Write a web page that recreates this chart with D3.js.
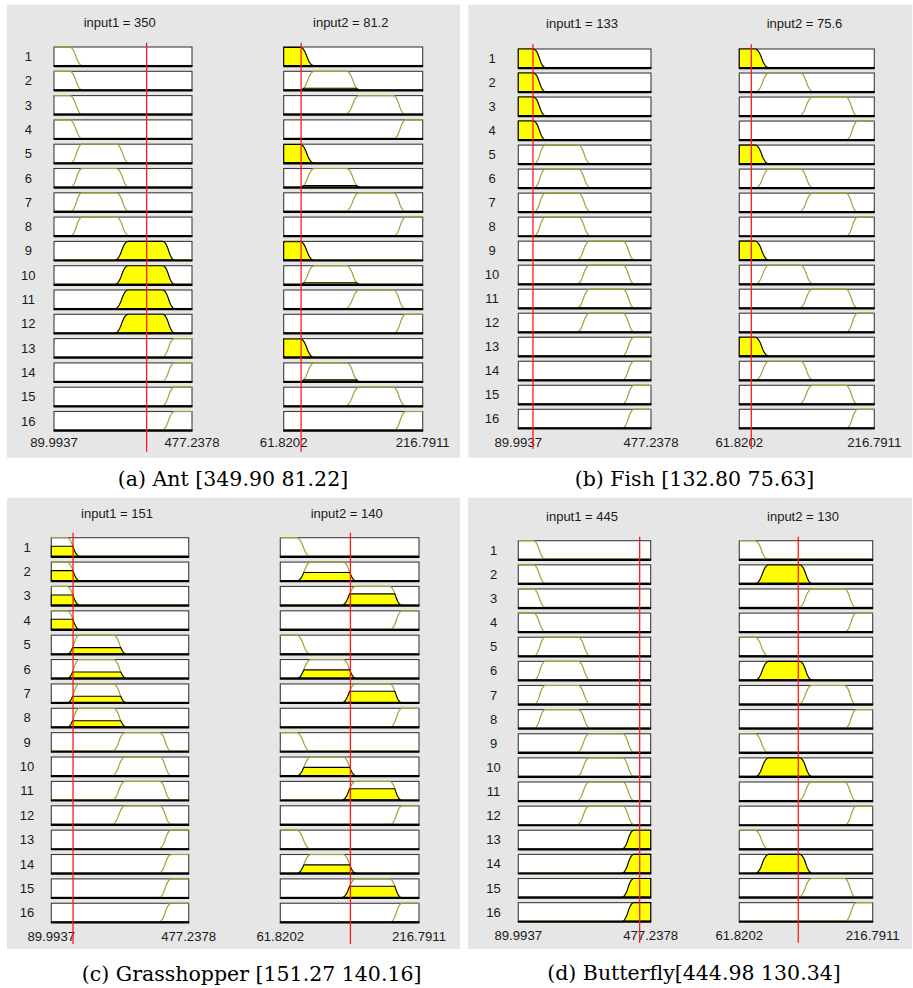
<!DOCTYPE html>
<html>
<head>
<meta charset="utf-8">
<script src="https://cdn.jsdelivr.net/npm/d3@7"></script>
<style>
  html, body { margin: 0; padding: 0; background: #ffffff; }
  svg { display: block; }
</style>
</head>
<body>
<svg id="chart" width="913" height="988"></svg>
<script>
// ---------------- DATA ----------------
const panelNames   = ["Ant", "Fish", "Grasshopper", "Butterfly"];
const captions     = ["(a) Ant [349.90 81.22]", "(b) Fish [132.80 75.63]",
                      "(c) Grasshopper [151.27 140.16]", "(d) Butterfly[444.98 130.34]"];
const input1Values = [349.90, 132.80, 151.27, 444.98];
const input2Values = [81.22, 75.63, 140.16, 130.34];

const ruleNumbers  = [1, 2, 3, 4, 5, 6, 7, 8, 9, 10, 11, 12, 13, 14, 15, 16];
const ruleIn1MF    = [0, 0, 0, 0, 1, 1, 1, 1, 2, 2, 2, 2, 3, 3, 3, 3];
const ruleIn2MF    = [0, 1, 2, 3, 0, 1, 2, 3, 0, 1, 2, 3, 0, 1, 2, 3];

const input1Range  = [89.9937, 477.2378];
const input2Range  = [61.8202, 216.7911];

const mfTypes      = ["zmf", "pimf", "pimf", "smf"];
const input1MFParams = [[134, 169], [137, 169, 265, 300], [262, 298, 395, 428], [394, 428]];
const input2MFParams = [[80, 95], [81, 96, 132, 146], [131, 146, 184, 197], [185, 198]];

// membership degree of each input in each MF
const input1Degrees = [[0, 0, 1, 0], [1, 0, 0, 0], [0.54, 0.33, 0, 0], [0, 0, 0, 1]];
const input2Degrees = [[0.98, 0.08, 0, 0], [1, 0, 0, 0], [0, 0.44, 0.6, 0], [0, 1, 0, 0]];

// ---------------- LAYOUT ----------------
const layout = [
  {bg:[7,4.7,453,453],      b1:[54,192],      b2:[283.7,422.7], top:47,    pitch:24.3,  numX:28.3,  titleY:27,    t1:119.7, t2:350.8, tickY:447,   redTop:42.7,  redBot:451.7, capX:233,   capY:485.5},
  {bg:[468.3,4.7,444,453],  b1:[518.3,651],   b2:[739.3,874.3], top:49,    pitch:24.02, numX:492,   titleY:28.3,  t1:582,   t2:804.5, tickY:446.5, redTop:44.3,  redBot:449,   capX:694.5, capY:486},
  {bg:[7,497.7,453,451.3],  b1:[51.3,188.7],  b2:[280.3,419],   top:537.7, pitch:24.37, numX:27,    titleY:517.5, t1:117,   t2:346.7, tickY:941,   redTop:532.7, redBot:944,   capX:251.7, capY:981},
  {bg:[468,497.7,444,451.3],b1:[518.3,650.7], b2:[739.3,872.7], top:540.7, pitch:24.13, numX:493.5, titleY:520.5, t1:582,   t2:803,   tickY:939.5, redTop:536.7, redBot:942.7, capX:694,   capY:980}
];
const boxH = 18.5;

// ---------------- MF functions ----------------
function smf(x, a, b) {
  if (x <= a) return 0;
  if (x >= b) return 1;
  const m = (a + b) / 2;
  if (x <= m) return 2 * Math.pow((x - a) / (b - a), 2);
  return 1 - 2 * Math.pow((x - b) / (b - a), 2);
}
function zmf(x, a, b) { return 1 - smf(x, a, b); }
function mfEval(type, p, x) {
  if (type === "zmf") return zmf(x, p[0], p[1]);
  if (type === "smf") return smf(x, p[0], p[1]);
  return smf(x, p[0], p[1]) * zmf(x, p[2], p[3]);
}

const svg = d3.select("#chart");
svg.append("rect").attr("width", 913).attr("height", 988).attr("fill", "#ffffff");

const fmtTitle = d3.format(".3~g");
const fmtTick = d3.format(".4f");
const sans = "Liberation Sans, Arial, sans-serif";

layout.forEach((L, p) => {
  const g = svg.append("g");
  g.append("rect").attr("x", L.bg[0]).attr("y", L.bg[1]).attr("width", L.bg[2]).attr("height", L.bg[3])
    .attr("fill", "#e6e6e6");

  const inputs = [
    {range: input1Range, params: input1MFParams, deg: input1Degrees[p], val: input1Values[p], bx: L.b1, mfIdx: ruleIn1MF, title: "input1 = " + fmtTitle(input1Values[p]), tx: L.t1},
    {range: input2Range, params: input2MFParams, deg: input2Degrees[p], val: input2Values[p], bx: L.b2, mfIdx: ruleIn2MF, title: "input2 = " + fmtTitle(input2Values[p]), tx: L.t2}
  ];

  inputs.forEach(inp => {
    const x = d3.scaleLinear().domain(inp.range).range(inp.bx);
    const n = 240;
    const xsBase = d3.range(n + 1).map(i => inp.range[0] + (inp.range[1] - inp.range[0]) * i / n);

    ruleNumbers.forEach((rn, r) => {
      const top = L.top + r * L.pitch;
      const y = d3.scaleLinear().domain([0, 1]).range([top + boxH, top]);
      const k = inp.mfIdx[r];
      const prm = inp.params[k];
      const type = mfTypes[k];
      const xs = xsBase.concat(prm.filter(v => v > inp.range[0] && v < inp.range[1])).sort((a, b) => a - b);

      g.append("rect").attr("x", x(inp.range[0])).attr("y", top)
        .attr("width", x(inp.range[1]) - x(inp.range[0])).attr("height", boxH)
        .attr("fill", "#ffffff").attr("stroke", "#3c3c3c").attr("stroke-width", 1.1);

      const line = d3.line().x(d => x(d[0])).y(d => y(d[1]));
      g.append("path").attr("d", line(xs.map(v => [v, mfEval(type, prm, v)])))
        .attr("fill", "none").attr("stroke", "#a0a036").attr("stroke-width", 1.2);

      const dg = inp.deg[k];
      if (dg > 0) {
        const sup = xs.filter(v => mfEval(type, prm, v) > 0.0005);
        const pts = [[sup[0], 0]].concat(sup.map(v => [v, Math.min(mfEval(type, prm, v), dg)]), [[sup[sup.length - 1], 0]]);
        g.append("path").attr("d", line(pts) + "Z")
          .attr("fill", "#ffff00").attr("stroke", "#000000").attr("stroke-width", 1.1);
      }

      g.append("line").attr("x1", x(inp.range[0]) - 0.5).attr("x2", x(inp.range[1]) + 0.5)
        .attr("y1", top + boxH + 0.6).attr("y2", top + boxH + 0.6)
        .attr("stroke", "#000000").attr("stroke-width", 2.2);

      if (inp === inputs[0]) {
        g.append("text").attr("x", L.numX).attr("y", top + boxH / 2 + 4.8)
          .attr("text-anchor", "middle").attr("font-family", sans)
          .attr("font-size", 13).attr("fill", "#1a1a1a").text(rn);
      }
    });

    // title
    g.append("text").attr("x", inp.tx).attr("y", L.titleY).attr("text-anchor", "middle")
      .attr("font-family", sans).attr("font-size", 13)
      .attr("fill", "#1a1a1a").text(inp.title);

    // range labels
    inp.range.forEach(v => {
      g.append("text").attr("x", x(v)).attr("y", L.tickY).attr("text-anchor", "middle")
        .attr("font-family", sans).attr("font-size", 13.2)
        .attr("fill", "#1a1a1a").text(fmtTick(v));
    });

    // red line at input value
    g.append("line").attr("x1", x(inp.val)).attr("x2", x(inp.val))
      .attr("y1", L.redTop).attr("y2", L.redBot)
      .attr("stroke", "#ff1a1a").attr("stroke-width", 1.3);
  });

  svg.append("text").attr("x", L.capX).attr("y", L.capY).attr("text-anchor", "middle")
    .attr("font-family", "DejaVu Serif, serif").attr("font-size", 20.5).attr("fill", "#000")
    .text(captions[p]);
});
</script>
</body>
</html>
